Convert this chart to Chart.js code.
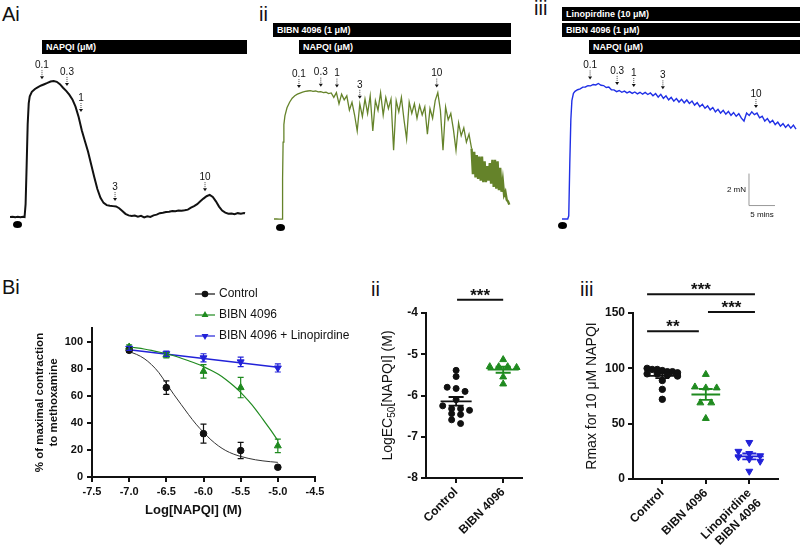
<!DOCTYPE html>
<html>
<head>
<meta charset="utf-8">
<script src="https://cdn.jsdelivr.net/npm/chart.js@4.4.0/dist/chart.umd.min.js"></script>
<style>
  body { margin: 0; background: #fff; width: 800px; height: 554px; position: relative; overflow: hidden;
         font-family: Arial, "Liberation Sans", sans-serif; }
  canvas { position: absolute; }
  .lbl { position: absolute; font-size: 20px; line-height: 1; color: #111; }
  .bar { position: absolute; height: 14px; background: #000; color: #fff; font-weight: bold; font-size: 9px;
         line-height: 14px; padding-left: 4px; box-sizing: border-box; white-space: nowrap; }
  .dot { position: absolute; width: 9px; height: 7px; border-radius: 50%; background: #000; }
</style>
</head>
<body>
<div class="lbl" style="left:2px;top:4px">Ai</div>
<div class="lbl" style="left:259px;top:4px">ii</div>
<div class="lbl" style="left:534px;top:-2px">iii</div>
<div class="lbl" style="left:2px;top:277px">Bi</div>
<div class="lbl" style="left:371px;top:279px">ii</div>
<div class="lbl" style="left:580px;top:279px">iii</div>

<div class="bar" style="left:42px;top:40px;width:205px">NAPQI (μM)</div>
<div class="bar" style="left:273px;top:23px;width:238px">BIBN 4096 (1 μM)</div>
<div class="bar" style="left:299px;top:40px;width:212px">NAPQI (μM)</div>
<div class="bar" style="left:562px;top:7px;width:238px">Linopirdine (10 μM)</div>
<div class="bar" style="left:562px;top:23px;width:238px">BIBN 4096 (1 μM)</div>
<div class="bar" style="left:589px;top:40px;width:211px">NAPQI (μM)</div>

<div class="dot" style="left:13px;top:221px"></div>
<div class="dot" style="left:276px;top:224px"></div>
<div class="dot" style="left:558px;top:222px"></div>

<canvas id="ai" width="240" height="180" style="left:10px;top:55px"></canvas>
<canvas id="aii" width="240" height="180" style="left:274px;top:55px"></canvas>
<canvas id="aiii" width="238" height="180" style="left:562px;top:55px"></canvas>
<canvas id="bi" width="360" height="270" style="left:0;top:270px"></canvas>
<canvas id="bii" width="200" height="284" style="left:330px;top:270px"></canvas>
<canvas id="biii" width="270" height="284" style="left:530px;top:270px"></canvas>

<script>
// ---- isometric tension traces: time (min) and force (mN) ----
const aiTime = [0, 0.5, 1, 1.5, 2, 2.5, 2.8, 3.0, 3.2, 3.4, 3.6, 3.8, 4.2, 4.8, 5.4, 6.0, 6.6, 7.2, 7.8, 8.4,
  9.0, 9.6, 10.2, 10.8, 11.4, 12.0, 12.6, 13.2, 13.8, 14.4, 15.0, 15.6, 16.2, 16.8, 17.4, 18.0, 18.6, 19.2,
  19.8, 20.4, 21.0, 21.6, 22.2, 22.8, 23.4, 24.0, 24.6, 25.2, 25.8, 26.4, 27.0, 27.6, 28.2, 28.8, 29.4, 30.0,
  30.6, 31.2, 31.8, 32.4, 33.0, 33.6, 34.2, 34.8, 35.4, 36.0, 36.6, 37.2, 37.8, 38.4, 39.0, 39.6, 40.2, 40.8,
  41.4, 42.0, 42.6, 43.2, 43.8, 44.4, 45.0, 45.2];
const aiForce = [0, 0.02, -0.02, 0.01, -0.01, 0.02, 0, 0.8, 3.2, 5.8, 7.1, 7.55, 7.82, 8.0, 8.12, 8.22, 8.3, 8.38, 8.47, 8.5,
  8.45, 8.3, 8.08, 7.88, 7.65, 7.35, 6.9, 6.25, 5.42, 4.75, 4.1, 3.3, 2.5, 1.75, 1.2, 0.88, 0.74, 0.7,
  0.68, 0.66, 0.55, 0.38, 0.2, 0.1, 0.06, 0.09, 0.02, 0.07, -0.02, 0.05, 0.0, 0.1, 0.15, 0.24, 0.27, 0.31,
  0.33, 0.38, 0.36, 0.4, 0.39, 0.42, 0.46, 0.58, 0.68, 0.8, 0.98, 1.15, 1.3, 1.38, 1.25, 0.98, 0.65, 0.4,
  0.27, 0.2, 0.22, 0.17, 0.24, 0.2, 0.25, 0.23];

const iiTime = [0, 0.5, 1, 1.55, 1.65, 1.75, 1.9, 2.1,
  2.5, 3, 3.5, 4, 4.5, 5, 5.5, 6, 6.5, 7, 7.5, 8, 8.5, 9, 9.5, 10, 10.5, 11, 11.5, 12, 12.5, 13, 13.5, 14,
  14.5, 15, 15.5, 16, 16.5, 17, 17.5, 18, 18.5, 19, 19.5, 20, 20.5, 21, 21.5, 22, 22.5, 23, 23.5, 24, 24.5,
  25, 25.5, 26, 26.5, 27, 27.5, 28, 28.5, 29, 29.5, 30, 30.5, 31, 31.5, 32, 32.5, 33, 33.5, 34, 34.5, 35,
  35.5, 36, 36.5, 37, 37.5,
  38, 38.25, 38.5, 38.75, 39, 39.25, 39.5, 39.75, 40, 40.25, 40.5, 40.75, 41, 41.25, 41.5, 41.75, 42, 42.25,
  42.5, 42.75, 43, 43.25, 43.5, 43.75, 44, 44.25, 44.5, 44.75, 45, 45.25];
const iiForce = [0, 0.01, -0.01, 0, 2.5, 4.8, 5.9, 6.45,
  6.95, 7.3, 7.55, 7.7, 7.8, 7.87, 7.93, 7.97, 8.0, 8.02, 7.98, 8.0, 7.94, 7.96, 7.9, 7.92, 7.84, 7.88, 7.6, 7.9, 7.2, 7.8, 7.45, 7.7,
  6.8, 7.3, 6.5, 5.5, 7.2, 6.4, 7.5, 6.6, 7.7, 5.5, 7.4, 6.8, 7.9, 6.5, 7.6, 6.9, 7.5, 4.3, 7.4, 6.7, 7.6,
  6.2, 5.0, 7.3, 6.6, 7.2, 6.3, 7.1, 6.5, 7.0, 5.3, 6.9, 6.3, 7.4, 7.9, 6.8, 4.3, 7.0, 6.2, 6.6, 5.6, 4.3,
  6.0, 5.2, 5.7, 4.8, 5.3,
  4.4, 2.8, 4.2, 2.6, 4.0, 2.5, 3.9, 2.4, 3.9, 2.3, 3.6, 2.3, 3.3, 2.4, 3.5, 2.2, 3.7, 2.0,
  3.7, 1.9, 3.6, 1.8, 3.2, 1.7, 2.4, 1.5, 1.7, 1.2, 1.1, 0.9];

const iiiTime = [0, 0.5, 1.1, 1.3, 1.5, 1.7, 1.9, 2.2, 2.5,
  3, 3.5, 4, 4.5, 5, 5.5, 6, 6.5, 7, 7.5, 8, 8.5, 9, 9.5, 10, 10.5, 11, 11.5, 12, 12.5, 13, 13.5, 14, 14.5,
  15, 15.5, 16, 16.5, 17, 17.5, 18, 18.5, 19, 19.5, 20, 20.5, 21, 21.5, 22, 22.5, 23, 23.5, 24, 24.5, 25,
  25.5, 26, 26.5, 27, 27.5, 28, 28.5, 29, 29.5, 30, 30.5, 31, 31.5, 32, 32.5, 33, 33.5, 34, 34.5, 35, 35.5,
  36, 36.5, 37, 37.5, 38, 38.5, 39, 39.5, 40, 40.5, 41, 41.5, 42, 42.5, 43, 43.5, 44, 44.5, 45];
const iiiForce = [0, 0.01, 0, 0.2, 3.5, 6.2, 7.4, 7.85, 7.98,
  8.08, 8.13, 8.24, 8.25, 8.33, 8.32, 8.41, 8.38, 8.47, 8.36, 8.34, 8.22, 8.25, 8.08, 8.07, 7.96, 8.03, 7.92, 7.99, 7.88, 7.96, 7.85, 7.94, 7.82,
  7.92, 7.80, 7.91, 7.78, 7.88, 7.70, 7.84, 7.62, 7.79, 7.54, 7.70, 7.45, 7.60, 7.36, 7.53, 7.31, 7.48, 7.26, 7.44, 7.22, 7.37,
  7.12, 7.27, 7.02, 7.17, 6.92, 7.07, 6.82, 6.97, 6.70, 6.86, 6.62, 6.79, 6.55, 6.72, 6.48, 6.65, 6.42, 6.58, 6.30, 6.12, 6.62,
  6.47, 6.70, 6.52, 6.62, 6.32, 6.42, 6.12, 6.28, 6.02, 6.17, 5.90, 6.06, 5.80, 5.96, 5.72, 5.90, 5.68, 5.87, 5.62];

const doseLabels = ['0.1', '0.3', '1', '3', '10'];
const aiDoseTime = [6.15, 10.96, 13.65, 20.2, 37.5];
const iiDoseTime = [4.8, 9.0, 12.1, 16.5, 31.3];
const iiiDoseTime = [5.4, 10.6, 13.8, 19.4, 37.3];

// ---- concentration-response (mean, SEM) ----
const logDose = [-7, -6.5, -6, -5.5, -5];
const controlResp = [93.5, 66, 32, 19.5, 7.2];
const controlSem = [1.5, 5, 7, 6, 1];
const bibnResp = [96, 90, 78, 66, 23];
const bibnSem = [1.5, 2, 5, 7.5, 5];
const linoResp = [95, 91, 88, 85, 80.5];
const linoSem = [1.5, 2, 3, 3.5, 3];
const fitDose = [-7, -6.9, -6.8, -6.7, -6.6, -6.5, -6.4, -6.3, -6.2, -6.1, -6, -5.9, -5.8, -5.7, -5.6, -5.5, -5.4, -5.3, -5.2, -5.1, -5];
const controlFit = [92.5, 90.5, 87.5, 83, 77, 69, 61, 53.5, 46, 39, 33, 27.5, 23, 19.5, 17, 15.2, 13.8, 12.7, 11.9, 11.3, 10.8];
const bibnFit = [96, 95.3, 94.5, 93.5, 92.3, 91, 89.5, 87.7, 85.8, 83.8, 81.5, 78.8, 75.8, 72, 67.5, 62.5, 56.5, 50, 42.5, 35, 27];
const linoFitDose = [-7, -5];
const linoFit = [94, 81];

// ---- individual animals ----
const ec50Groups = ['Control', 'BIBN 4096'];
const ec50Control = [-5.39, -5.54, -5.80, -5.83, -5.90, -6.10, -6.25, -6.32, -6.32, -6.36, -6.44, -6.46, -6.59, -6.68];
const ec50Bibn = [-5.13, -5.30, -5.30, -5.30, -5.32, -5.55, -5.72];
const rmaxGroups = ['Control', 'BIBN 4096', ['Linopirdine', 'BIBN 4096']];
const rmaxControl = [100, 99, 99, 98, 97, 97, 96, 95, 95, 94, 93, 89, 81, 72];
const rmaxBibn = [94.5, 83.2, 82.3, 82.3, 68.8, 68.8, 54.7];
const rmaxLino = [33, 25, 23, 21, 20, 18, 16, 7];

const BLACK = '#111';
const GREEN = '#1f8a1f';
const BLUE = '#2222d8';
Chart.defaults.font.family = 'Arial, "Liberation Sans", sans-serif';
Chart.defaults.color = BLACK;

function pairs(xs, ys) {
  return xs.map((x, i) => ({ x: x, y: ys[i] }));
}

// GraphPad-like column scatter: rows of close values spread sideways
function swarm(values, center, rowH, step, maxHalf) {
  const order = values.map((v, i) => i).sort((a, b) => values[b] - values[a]);
  const pts = [];
  let row = [];
  const flush = () => {
    const n = row.length;
    const s = n > 1 ? Math.min(step, 2 * maxHalf / (n - 1)) : 0;
    row.forEach((i, k) => pts.push({ x: center + (k - (n - 1) / 2) * s, y: values[i] }));
    row = [];
  };
  order.forEach(i => {
    if (row.length && values[row[0]] - values[i] > rowH) flush();
    row.push(i);
  });
  flush();
  return pts;
}

const doseMarks = {
  id: 'doseMarks',
  afterDatasetsDraw(chart, args, opts) {
    const ctx = chart.ctx;
    const xs = chart.scales.x, ys = chart.scales.y;
    const data = chart.data.datasets[0].data;
    ctx.save();
    opts.times.forEach((t, k) => {
      let top = -Infinity;
      data.forEach(p => { if (Math.abs(p.x - t) <= 0.6 && p.y > top) top = p.y; });
      const px = xs.getPixelForValue(t);
      const py = ys.getPixelForValue(top);
      ctx.strokeStyle = '#444';
      ctx.lineWidth = 1;
      ctx.setLineDash([1, 1]);
      ctx.beginPath();
      ctx.moveTo(px, py - 14);
      ctx.lineTo(px, py - 8);
      ctx.stroke();
      ctx.setLineDash([]);
      ctx.fillStyle = BLACK;
      ctx.beginPath();
      ctx.moveTo(px - 2, py - 8);
      ctx.lineTo(px + 2, py - 8);
      ctx.lineTo(px, py - 5);
      ctx.closePath();
      ctx.fill();
      ctx.font = '10px Arial';
      ctx.textAlign = 'center';
      ctx.textBaseline = 'bottom';
      ctx.fillText(opts.labels[k], px, py - 14);
    });
    ctx.restore();
  }
};

const scaleBar = {
  id: 'scaleBar',
  afterDraw(chart, args, opts) {
    if (!opts.show) return;
    const ctx = chart.ctx;
    const xs = chart.scales.x, ys = chart.scales.y;
    const x0 = xs.getPixelForValue(opts.t), x1 = xs.getPixelForValue(opts.t + opts.dt);
    const y0 = ys.getPixelForValue(opts.f), y1 = ys.getPixelForValue(opts.f + opts.df);
    ctx.save();
    ctx.strokeStyle = '#999';
    ctx.lineWidth = 1;
    ctx.beginPath();
    ctx.moveTo(x0, y1);
    ctx.lineTo(x0, y0);
    ctx.lineTo(x1, y0);
    ctx.stroke();
    ctx.fillStyle = BLACK;
    ctx.font = '8px Arial';
    ctx.textAlign = 'right';
    ctx.textBaseline = 'middle';
    ctx.fillText('2 mN', x0 - 3, (y0 + y1) / 2);
    ctx.textAlign = 'center';
    ctx.textBaseline = 'top';
    ctx.fillText('5 mins', (x0 + x1) / 2, y0 + 5);
    ctx.restore();
  }
};

function drawTrace(id, time, force, color, width, doseTime, yMin, yMax, bar, thickFrom) {
  const canvas = document.getElementById(id);
  return new Chart(canvas, {
    type: 'scatter',
    data: {
      datasets: [{
        data: pairs(time, force),
        showLine: true,
        borderColor: color,
        borderWidth: width,
        pointRadius: 0,
        tension: 0,
        // the fast oscillation at the end of the BIBN trace reads as a solid band
        segment: {
          borderWidth: c => (thickFrom !== undefined && c.p0.parsed.x >= thickFrom ? 2.4 : undefined)
        }
      }]
    },
    options: {
      responsive: false,
      animation: false,
      devicePixelRatio: 1,
      events: [],
      layout: { padding: 0, autoPadding: false },
      scales: {
        x: { type: 'linear', display: false, min: 0, max: canvas.width / 5.2 },
        y: { display: false, min: yMin, max: yMax }
      },
      plugins: {
        legend: { display: false },
        tooltip: { enabled: false },
        doseMarks: { times: doseTime, labels: doseLabels },
        scaleBar: bar || { show: false }
      }
    },
    plugins: [doseMarks, scaleBar]
  });
}

drawTrace('ai', aiTime, aiForce, BLACK, 2, aiDoseTime, -1.125, 10.125);
drawTrace('aii', iiTime, iiForce, 'rgba(88,120,24,0.92)', 1.3, iiDoseTime, -1, 10.25, null, 37.9);
drawTrace('aiii', iiiTime, iiiForce, '#2030e6', 1.4, iiiDoseTime, -1, 10.25,
  { show: true, t: 35.96, f: 0.84, dt: 5, df: 2 });

// ---- shared plugins for the B panels ----
const errorBars = {
  id: 'errorBars',
  afterDatasetsDraw(chart) {
    const ctx = chart.ctx;
    const xs = chart.scales.x, ys = chart.scales.y;
    chart.data.datasets.forEach(ds => {
      if (!ds.errors) return;
      ctx.save();
      ctx.strokeStyle = ds.borderColor;
      ctx.lineWidth = 1.2;
      ds.data.forEach((p, i) => {
        const x = xs.getPixelForValue(p.x);
        const top = ys.getPixelForValue(p.y + ds.errors[i]);
        const bot = ys.getPixelForValue(p.y - ds.errors[i]);
        ctx.beginPath();
        ctx.moveTo(x, top); ctx.lineTo(x, bot);
        ctx.moveTo(x - 3, top); ctx.lineTo(x + 3, top);
        ctx.moveTo(x - 3, bot); ctx.lineTo(x + 3, bot);
        ctx.stroke();
      });
      ctx.restore();
    });
  }
};

const markerLegend = {
  id: 'markerLegend',
  afterDraw(chart, args, opts) {
    if (!opts.show) return;
    const ctx = chart.ctx;
    const items = chart.data.datasets.filter(ds => ds.label);
    ctx.save();
    items.forEach((ds, i) => {
      const y = opts.top + i * opts.gap;
      ctx.strokeStyle = ds.borderColor;
      ctx.fillStyle = ds.backgroundColor;
      ctx.lineWidth = 1.2;
      ctx.beginPath();
      ctx.moveTo(opts.left, y);
      ctx.lineTo(opts.left + 20, y);
      ctx.stroke();
      Chart.helpers.drawPoint(ctx, { pointStyle: ds.pointStyle, rotation: ds.pointRotation || 0, radius: ds.pointRadius, borderWidth: 0 }, opts.left + 10, y);
      ctx.fillStyle = BLACK;
      ctx.font = '12px Arial';
      ctx.textAlign = 'left';
      ctx.textBaseline = 'middle';
      ctx.fillText(ds.label, opts.left + 24, y);
    });
    ctx.restore();
  }
};

const axisText = {
  id: 'axisText',
  afterDraw(chart, args, opts) {
    const ctx = chart.ctx;
    const a = chart.chartArea;
    ctx.save();
    ctx.fillStyle = BLACK;
    ctx.textBaseline = 'middle';
    ctx.textAlign = 'left';
    if (opts.y) {
      opts.y.lines.forEach((segs, k) => {
        ctx.save();
        ctx.translate(a.left + opts.y.dx[k], (a.top + a.bottom) / 2);
        ctx.rotate(-Math.PI / 2);
        let total = 0;
        segs.forEach(s => {
          ctx.font = s.sub ? opts.y.subFont : opts.y.font;
          total += ctx.measureText(s.t).width;
        });
        let x = -total / 2;
        segs.forEach(s => {
          ctx.font = s.sub ? opts.y.subFont : opts.y.font;
          ctx.fillText(s.t, x, s.sub ? 4 : 0);
          x += ctx.measureText(s.t).width;
        });
        ctx.restore();
      });
    }
    if (opts.x) {
      ctx.font = opts.x.font;
      ctx.textAlign = 'center';
      ctx.fillText(opts.x.text, (a.left + a.right) / 2 + opts.x.dx, a.bottom + opts.x.dy);
    }
    ctx.restore();
  }
};

const groupStats = {
  id: 'groupStats',
  afterDatasetsDraw(chart, args, opts) {
    const ctx = chart.ctx;
    const xs = chart.scales.x, ys = chart.scales.y;
    chart.data.datasets.forEach(ds => {
      const v = ds.values;
      const n = v.length;
      const mean = v.reduce((s, x) => s + x, 0) / n;
      const sd = Math.sqrt(v.reduce((s, x) => s + (x - mean) * (x - mean), 0) / (n - 1));
      const sem = sd / Math.sqrt(n);
      const ym = ys.getPixelForValue(mean);
      const yt = ys.getPixelForValue(mean + sem);
      const yb = ys.getPixelForValue(mean - sem);
      const xc = xs.getPixelForValue(ds.group);
      const mh = xs.getPixelForValue(ds.group + opts.meanHalf) - xc;
      const ch = xs.getPixelForValue(ds.group + opts.capHalf) - xc;
      ctx.save();
      ctx.strokeStyle = ds.borderColor;
      ctx.lineWidth = 1.8;
      ctx.beginPath();
      ctx.moveTo(xc - mh, ym); ctx.lineTo(xc + mh, ym);
      ctx.moveTo(xc, yt); ctx.lineTo(xc, yb);
      ctx.moveTo(xc - ch, yt); ctx.lineTo(xc + ch, yt);
      ctx.moveTo(xc - ch, yb); ctx.lineTo(xc + ch, yb);
      ctx.stroke();
      ctx.restore();
    });
  }
};

const sigBars = {
  id: 'sigBars',
  afterDraw(chart, args, opts) {
    const ctx = chart.ctx;
    const xs = chart.scales.x, ys = chart.scales.y;
    ctx.save();
    opts.from.forEach((f, i) => {
      const x0 = xs.getPixelForValue(f), x1 = xs.getPixelForValue(opts.to[i]);
      const y = ys.getPixelForValue(opts.level[i]);
      ctx.strokeStyle = BLACK;
      ctx.lineWidth = 2;
      ctx.beginPath();
      ctx.moveTo(x0, y); ctx.lineTo(x1, y);
      ctx.stroke();
      ctx.fillStyle = BLACK;
      ctx.font = 'bold 17px Arial';
      ctx.textAlign = 'center';
      ctx.textBaseline = 'alphabetic';
      ctx.fillText(opts.text[i], (x0 + x1) / 2, y + 1);
    });
    ctx.restore();
  }
};

function axisStyle(extra) {
  return Object.assign({
    grid: { drawOnChartArea: false, color: BLACK, lineWidth: 2, tickLength: 5 },
    border: { color: BLACK, width: 2 }
  }, extra);
}
const tickFont = { size: 11, weight: 'bold' };

// ---- Bi: concentration-response curves ----
new Chart(document.getElementById('bi'), {
  type: 'scatter',
  data: {
    datasets: [
      { label: 'Control', data: pairs(logDose, controlResp), errors: controlSem, borderColor: BLACK, backgroundColor: BLACK,
        pointStyle: 'circle', pointRadius: 3.3, showLine: false },
      { label: 'BIBN 4096', data: pairs(logDose, bibnResp), errors: bibnSem, borderColor: GREEN, backgroundColor: GREEN,
        pointStyle: 'triangle', pointRadius: 4, showLine: false },
      { label: 'BIBN 4096 + Linopirdine', data: pairs(logDose, linoResp), errors: linoSem, borderColor: BLUE, backgroundColor: BLUE,
        pointStyle: 'triangle', pointRotation: 180, pointRadius: 4, showLine: false },
      { data: pairs(fitDose, controlFit), showLine: true, borderColor: '#333', borderWidth: 1, pointRadius: 0, cubicInterpolationMode: 'monotone' },
      { data: pairs(fitDose, bibnFit), showLine: true, borderColor: GREEN, borderWidth: 1.2, pointRadius: 0, cubicInterpolationMode: 'monotone' },
      { data: pairs(linoFitDose, linoFit), showLine: true, borderColor: BLUE, borderWidth: 1.5, pointRadius: 0 }
    ]
  },
  options: {
    responsive: false, animation: false, devicePixelRatio: 1, events: [],
    layout: { padding: { left: 0, top: 58, right: 45, bottom: 0 }, autoPadding: false },
    scales: {
      x: axisStyle({
        type: 'linear', min: -7.5, max: -4.5,
        ticks: { stepSize: 0.5, callback: v => v.toFixed(1), font: tickFont, color: BLACK, padding: 3, maxRotation: 0 },
        afterFit: s => { s.height = 63; }
      }),
      y: axisStyle({
        min: 0, max: 110,
        ticks: { stepSize: 20, includeBounds: false, font: tickFont, color: BLACK, padding: 4 },
        afterFit: s => { s.width = 92; }
      })
    },
    plugins: {
      legend: { display: false },
      tooltip: { enabled: false },
      markerLegend: { show: true, left: 195, top: 24, gap: 21 },
      axisText: {
        y: { lines: [[{ t: '% of maximal contraction' }], [{ t: 'to methoxamine' }]], dx: [-52, -38], font: 'bold 11.5px Arial', subFont: 'bold 9px Arial' },
        x: { text: 'Log[NAPQI] (M)', font: 'bold 13px Arial', dx: -10, dy: 33 }
      }
    }
  },
  plugins: [errorBars, markerLegend, axisText]
});

// ---- Bii: LogEC50 per artery ----
new Chart(document.getElementById('bii'), {
  type: 'scatter',
  data: {
    datasets: [
      { data: swarm(ec50Control, 1, 0.12, 0.19, 0.3), values: ec50Control, group: 1, borderColor: BLACK, backgroundColor: BLACK,
        pointStyle: 'circle', pointRadius: 3 },
      { data: swarm(ec50Bibn, 2, 0.12, 0.19, 0.3), values: ec50Bibn, group: 2, borderColor: GREEN, backgroundColor: GREEN,
        pointStyle: 'triangle', pointRadius: 4 }
    ]
  },
  options: {
    responsive: false, animation: false, devicePixelRatio: 1, events: [],
    layout: { padding: { left: 0, top: 43, right: 8, bottom: 0 }, autoPadding: false },
    scales: {
      x: axisStyle({
        type: 'linear', min: 0.36, max: 2.4,
        afterBuildTicks: s => { s.ticks = ec50Groups.map((g, i) => ({ value: i + 1 })); },
        ticks: { callback: v => ec50Groups[v - 1], font: { size: 12, weight: 'bold' }, color: BLACK,
                 minRotation: 45, maxRotation: 45, autoSkip: false, padding: 2 },
        afterFit: s => { s.height = 76; }
      }),
      y: axisStyle({
        min: -8, max: -4,
        ticks: { stepSize: 1, font: { size: 12, weight: 'bold' }, color: BLACK, padding: 3 },
        afterFit: s => { s.width = 96; }
      })
    },
    plugins: {
      legend: { display: false },
      tooltip: { enabled: false },
      groupStats: { meanHalf: 0.33, capHalf: 0.16 },
      sigBars: { from: [1.02], to: [2.0], level: [-3.68], text: ['***'] },
      axisText: {
        y: { lines: [[{ t: 'LogEC' }, { t: '50', sub: true }, { t: '[NAPQI] (M)' }]], dx: [-38], font: '14px Arial', subFont: '10px Arial' }
      }
    }
  },
  plugins: [groupStats, sigBars, axisText]
});

// ---- Biii: Rmax at 10 uM NAPQI ----
new Chart(document.getElementById('biii'), {
  type: 'scatter',
  data: {
    datasets: [
      { data: swarm(rmaxControl, 1, 4.6, 0.25, 0.35), values: rmaxControl, group: 1, borderColor: BLACK, backgroundColor: BLACK,
        pointStyle: 'circle', pointRadius: 3.2 },
      { data: swarm(rmaxBibn, 2, 4.6, 0.25, 0.35), values: rmaxBibn, group: 2, borderColor: GREEN, backgroundColor: GREEN,
        pointStyle: 'triangle', pointRadius: 4 },
      { data: swarm(rmaxLino, 3, 4.6, 0.25, 0.35), values: rmaxLino, group: 3, borderColor: BLUE, backgroundColor: BLUE,
        pointStyle: 'triangle', pointRotation: 180, pointRadius: 4 }
    ]
  },
  options: {
    responsive: false, animation: false, devicePixelRatio: 1, events: [],
    layout: { padding: { left: 0, top: 43, right: 22, bottom: 0 }, autoPadding: false },
    scales: {
      x: axisStyle({
        type: 'linear', min: 0.326, max: 3.66,
        afterBuildTicks: s => { s.ticks = rmaxGroups.map((g, i) => ({ value: i + 1 })); },
        ticks: { callback: v => rmaxGroups[v - 1], font: { size: 12, weight: 'bold' }, color: BLACK,
                 minRotation: 45, maxRotation: 45, autoSkip: false, padding: 2 },
        afterFit: s => { s.height = 75; }
      }),
      y: axisStyle({
        min: 0, max: 150,
        ticks: { stepSize: 50, font: { size: 12, weight: 'bold' }, color: BLACK, padding: 3 },
        afterFit: s => { s.width = 103; }
      })
    },
    plugins: {
      legend: { display: false },
      tooltip: { enabled: false },
      groupStats: { meanHalf: 0.33, capHalf: 0.16 },
      sigBars: { from: [0.65, 2.05, 0.65], to: [3.13, 3.13, 1.84], level: [167, 151, 133.5], text: ['***', '***', '**'] },
      axisText: {
        y: { lines: [[{ t: 'Rmax for 10 μM NAPQI' }]], dx: [-41], font: '14px Arial', subFont: '10px Arial' }
      }
    }
  },
  plugins: [groupStats, sigBars, axisText]
});
</script>
</body>
</html>
